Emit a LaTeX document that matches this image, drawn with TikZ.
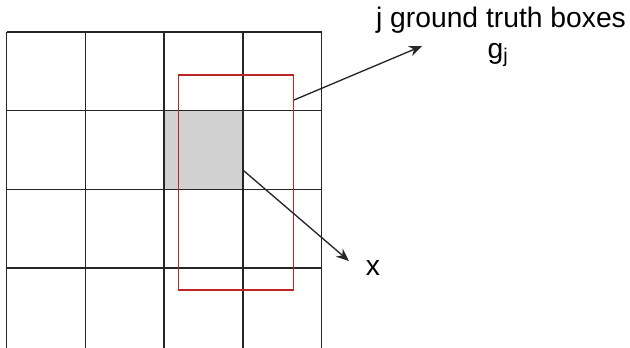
\documentclass[tikz,border=0pt]{standalone}
\usepackage{fontspec}
\setmainfont{Liberation Sans}
\usetikzlibrary{arrows.meta,positioning}

\begin{document}
\begin{tikzpicture}[
  x=0.75pt, y=-0.75pt,
  font=\fontsize{21.2}{25}\selectfont,
  gridline/.style={draw=black!85, line width=1.1pt},
  cell/.style={fill=black!18, draw=none, minimum width=58.5pt, minimum height=58.5pt, inner sep=0pt},
  gtbox/.style={draw=red!70!black!85, line width=1pt, minimum width=86pt, minimum height=161.25pt, inner sep=0pt},
  arrow/.style={-{Stealth[length=3.4mm, width=2.8mm]}, line width=1pt, draw=black!85},
  lbl/.style={anchor=base, inner sep=0pt}
]
\useasboundingbox (0,0) rectangle (630,347);
\clip (0,0) rectangle (630,347);

% shaded cell and grid
\node[cell] (anchorcell) at (203.6,150) {};
\foreach \i in {0,...,4}
  \draw[gridline] (6.7+78.7*\i,32) -- (6.7+78.7*\i,348);
\foreach \j in {0,...,3}
  \draw[gridline] (6.7,32+78.7*\j) -- (321.5,32+78.7*\j);

% ground truth box
\node[gtbox] (gt) at (236,182.5) {};

% labels
\node[lbl] (gtlabel) at (501,27) {j ground truth boxes};
\node[lbl] (gjlabel) at (498,58) {g$_\mathrm{j}$};
\node[lbl] (xlabel) at (373,275) {x};

\coordinate (gtpt) at (gt.east |- 0,100);
\coordinate (gtend) at (422,46);
\coordinate (cellpt) at (anchorcell.east |- 0,170);
\coordinate (xend) at (349,261);

\draw[arrow] (gtpt) -- (gtend);
\draw[arrow] (cellpt) -- (xend);

\end{tikzpicture}
\end{document}
